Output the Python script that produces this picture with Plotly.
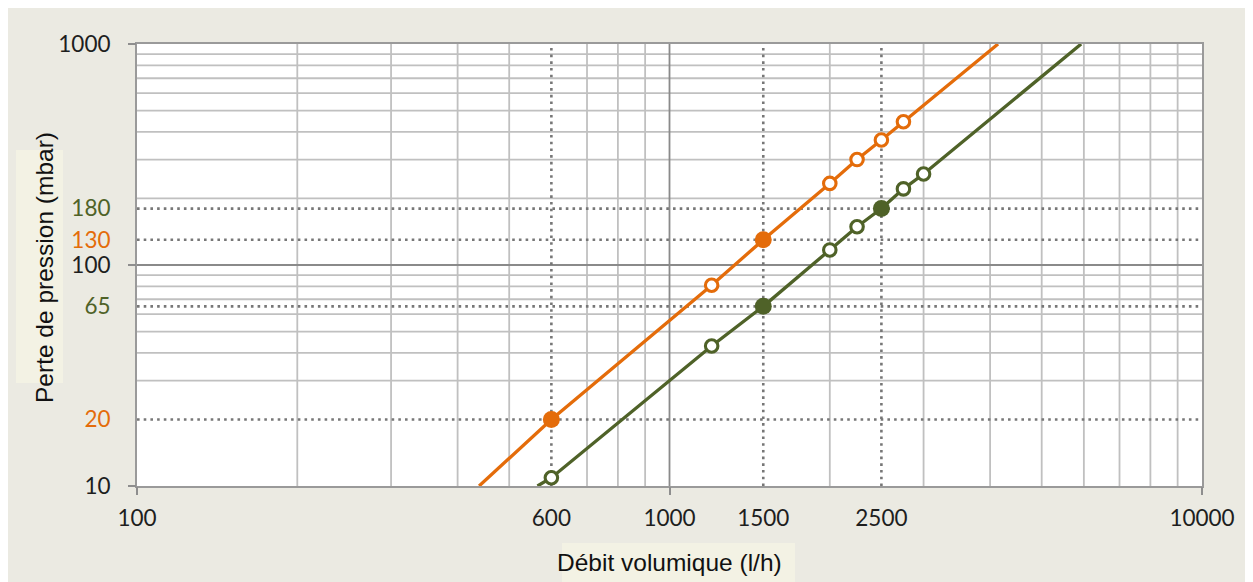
import plotly.graph_objects as go

# ---------------- data ----------------
x_tick_vals = [100, 600, 1000, 1500, 2500, 10000]
x_tick_text = ["100", "600", "1000", "1500", "2500", "10000"]
y_tick_vals = [10, 20, 65, 100, 130, 180, 1000]
y_tick_colors = ["#1e1e1e", "#E46C0A", "#4F6228", "#1e1e1e", "#E46C0A", "#4F6228", "#1e1e1e"]

# orange series (line + markers)
orange_line_x = [439, 600, 1200, 1500, 2000, 2250, 2500, 2750, 4140]
orange_line_y = [10, 20, 81, 130, 234, 300, 368, 445, 1000]
orange_open_x = [1200, 2000, 2250, 2500, 2750]
orange_open_y = [81, 234, 300, 368, 445]
orange_fill_x = [600, 1500]
orange_fill_y = [20, 130]

# green series (line + markers)
green_line_x = [565, 600, 1200, 1500, 2000, 2250, 2500, 2750, 3000, 5930]
green_line_y = [10, 10.9, 43, 65, 117, 149, 180, 221, 258, 1000]
green_open_x = [600, 1200, 2000, 2250, 2750, 3000]
green_open_y = [10.9, 43, 117, 149, 221, 258]
green_fill_x = [1500, 2500]
green_fill_y = [65, 180]

# grid and reference lines
grid_x_minor = [200, 300, 400, 500, 700, 800, 900, 2000, 3000, 4000, 5000, 6000, 7000, 8000, 9000]
grid_x_major = [1000]
grid_y_minor = [30, 40, 50, 60, 70, 80, 90, 200, 300, 400, 500, 600, 700, 800, 900]
grid_y_major = [100]
ref_x = [600, 1500, 2500]
ref_y = [20, 65, 130, 180]
decade_x = [100, 1000, 10000]
decade_y = [10, 100, 1000]

ORANGE = "#E46C0A"
GREEN = "#4F6228"
BEIGE = "#ebeae2"
BOX = "#f3f2e4"

# figure sits at page offset (8, 8) because of the default body margin
OX, OY = 8, 8
PLOT_L, PLOT_T, PLOT_R, PLOT_B = 137, 44, 1202, 486   # image pixel positions of plot area
W, H = 1245, 574
ML, MT = PLOT_L - OX, PLOT_T - OY
PW, PH = PLOT_R - PLOT_L, PLOT_B - PLOT_T
MR = W - ML - PW
MB = H - MT - PH


def px(xp):
    return (xp - PLOT_L) / PW


def py(yp):
    return (PLOT_B - yp) / PH


fig = go.Figure()

fig.add_trace(go.Scatter(x=orange_line_x, y=orange_line_y, mode="lines",
                         line=dict(color=ORANGE, width=3.3), hoverinfo="skip", showlegend=False))
fig.add_trace(go.Scatter(x=green_line_x, y=green_line_y, mode="lines",
                         line=dict(color=GREEN, width=3.3), hoverinfo="skip", showlegend=False))
fig.add_trace(go.Scatter(x=orange_open_x, y=orange_open_y, mode="markers",
                         marker=dict(symbol="circle", size=12.5, color="white",
                                     line=dict(color=ORANGE, width=3.1)), showlegend=False))
fig.add_trace(go.Scatter(x=green_open_x, y=green_open_y, mode="markers",
                         marker=dict(symbol="circle", size=12.5, color="white",
                                     line=dict(color=GREEN, width=3.1)), showlegend=False))
fig.add_trace(go.Scatter(x=orange_fill_x, y=orange_fill_y, mode="markers",
                         marker=dict(symbol="circle", size=17, color=ORANGE, line=dict(width=0)),
                         showlegend=False))
fig.add_trace(go.Scatter(x=green_fill_x, y=green_fill_y, mode="markers",
                         marker=dict(symbol="circle", size=17, color=GREEN, line=dict(width=0)),
                         showlegend=False))
# invisible trace to carry the overlay axes with decade tick marks
fig.add_trace(go.Scatter(x=[decade_x[0], decade_x[-1]], y=[decade_y[0], decade_y[-1]],
                         xaxis="x2", yaxis="y2", mode="markers", marker=dict(opacity=0),
                         hoverinfo="skip", showlegend=False))

shapes = []
# title boxes
shapes.append(dict(type="rect", xref="paper", yref="paper", x0=px(562), x1=px(795),
                   y0=py(OY + H + 2), y1=py(543), fillcolor=BOX, line=dict(width=0), layer="below"))
shapes.append(dict(type="rect", xref="paper", yref="paper", x0=px(16), x1=px(63),
                   y0=py(383), y1=py(150), fillcolor=BOX, line=dict(width=0), layer="below"))
# grid lines
for v in grid_x_minor:
    shapes.append(dict(type="line", xref="x", yref="paper", x0=v, x1=v, y0=0, y1=1,
                       line=dict(color="#c0c0c0", width=1.8), layer="below"))
for v in grid_y_minor:
    shapes.append(dict(type="line", xref="paper", yref="y", x0=0, x1=1, y0=v, y1=v,
                       line=dict(color="#c0c0c0", width=1.8), layer="below"))
for v in grid_x_major:
    shapes.append(dict(type="line", xref="x", yref="paper", x0=v, x1=v, y0=0, y1=1,
                       line=dict(color="#8a8a8a", width=1.8), layer="below"))
for v in grid_y_major:
    shapes.append(dict(type="line", xref="paper", yref="y", x0=0, x1=1, y0=v, y1=v,
                       line=dict(color="#8a8a8a", width=1.8), layer="below"))
# dotted reference lines
for v in ref_x:
    shapes.append(dict(type="line", xref="x", yref="paper", x0=v, x1=v, y0=0, y1=1,
                       line=dict(color="#777777", width=2.6, dash="2.6px,4.1px"), layer="below"))
for v in ref_y:
    shapes.append(dict(type="line", xref="paper", yref="y", x0=0, x1=1, y0=v, y1=v,
                       line=dict(color="#777777", width=2.6, dash="2.6px,4.1px"), layer="below"))

y_tick_text = [f"<span style='color:{c}'>{v}</span>" for v, c in zip(y_tick_vals, y_tick_colors)]

tickfont = dict(family="Lato, Open Sans, sans-serif", size=22.5, color="#1e1e1e")

fig.update_layout(
    width=W, height=H,
    margin=dict(l=ML, r=MR, t=MT, b=MB, pad=0),
    paper_bgcolor=BEIGE, plot_bgcolor="white",
    showlegend=False,
    shapes=shapes,
    xaxis=dict(type="log", range=[2, 4], tickmode="array", tickvals=x_tick_vals,
               ticktext=x_tick_text, ticks="", showgrid=False, zeroline=False,
               showline=True, linecolor="#9a9a9a", linewidth=2, mirror=True,
               tickfont=tickfont, ticklabelstandoff=11),
    yaxis=dict(type="log", range=[1, 3], tickmode="array", tickvals=y_tick_vals,
               ticktext=y_tick_text, ticks="", showgrid=False, zeroline=False,
               showline=True, linecolor="#9a9a9a", linewidth=2, mirror=True,
               tickfont=tickfont, ticklabelstandoff=20),
    xaxis2=dict(type="log", range=[2, 4], overlaying="x", side="bottom", anchor="y2",
                tickmode="array", tickvals=decade_x, ticks="outside", ticklen=8,
                tickwidth=2, tickcolor="#8e8e8e", showticklabels=False, showgrid=False,
                zeroline=False, showline=False),
    yaxis2=dict(type="log", range=[1, 3], overlaying="y", side="left", anchor="x2",
                tickmode="array", tickvals=decade_y, ticks="outside", ticklen=8,
                tickwidth=2, tickcolor="#8e8e8e", showticklabels=False, showgrid=False,
                zeroline=False, showline=False),
    annotations=[
        dict(text="Débit volumique (l/h)", xref="paper", yref="paper", x=0.5, y=py(562),
             xanchor="center", yanchor="middle", showarrow=False,
             font=dict(family="Liberation Sans, Arial, sans-serif", size=24.5, color="#111111")),
        dict(text="Perte de pression (mbar)", xref="paper", yref="paper", x=px(44), y=py(268),
             xanchor="center", yanchor="middle", showarrow=False, textangle=-90,
             font=dict(family="Liberation Sans, Arial, sans-serif", size=24.5, color="#111111")),
    ],
)

fig.write_html("out.html")
